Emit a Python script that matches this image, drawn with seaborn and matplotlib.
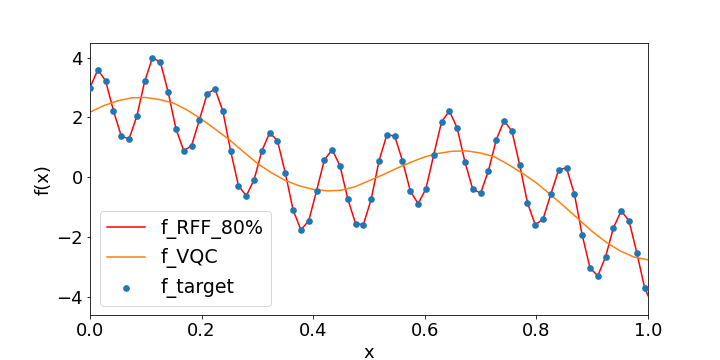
import numpy as np
import matplotlib
matplotlib.use("Agg")
import matplotlib.pyplot as plt
import seaborn as sns

# ---------------------------------------------------------------------------
# Datos
# ---------------------------------------------------------------------------
# puntos objetivo, paso 0.014 en x
x_target = np.round(np.arange(72) * 0.014, 3)
f_target = [
    3.00, 3.60, 3.23, 2.23, 1.38, 1.28, 2.05, 3.21, 4.00, 3.86,
    2.86, 1.62, 0.89, 1.05, 1.92, 2.79, 2.96, 2.22, 0.88, -0.28,
    -0.63, -0.09, 0.88, 1.49, 1.22, 0.14, -1.10, -1.77, -1.46, -0.46,
    0.58, 0.92, 0.38, -0.73, -1.56, -1.59, -0.73, 0.55, 1.42, 1.38,
    0.55, -0.46, -0.89, -0.39, 0.75, 1.85, 2.22, 1.65, 0.51, -0.41,
    -0.53, 0.21, 1.25, 1.89, 1.55, 0.41, -0.86, -1.60, -1.40, -0.56,
    0.25, 0.31, -0.56, -1.93, -3.04, -3.31, -2.67, -1.70, -1.13, -1.46,
    -2.54, -3.71,
]

# aproximación RFF (pasa por los puntos, un punto más allá del borde)
x_rff = np.append(x_target, 1.008)
f_rff = f_target + [-4.30]

# curva VQC
x_vqc = np.linspace(0, 1, 41)
f_vqc = [
    2.18, 2.40, 2.56, 2.66, 2.67, 2.60, 2.48, 2.24, 1.94, 1.60,
    1.25, 0.85, 0.46, 0.15, -0.11, -0.29, -0.41, -0.46, -0.44, -0.32,
    -0.12, 0.08, 0.30, 0.50, 0.68, 0.80, 0.87, 0.88, 0.81, 0.68,
    0.42, 0.13, -0.19, -0.58, -0.98, -1.40, -1.82, -2.18, -2.47, -2.68,
    -2.77,
]

plt.rcParams["font.size"] = 18

fig, ax = plt.subplots(figsize=(10, 5))
fig.subplots_adjust(left=0.125, right=0.9, top=0.88, bottom=0.125)

sns.lineplot(x=x_rff, y=f_rff, color="red", label="f_RFF_80%", ax=ax, sort=False)
sns.lineplot(x=x_vqc, y=f_vqc, color="#ff7f0e", label="f_VQC", ax=ax, sort=False)
sns.scatterplot(x=x_target, y=f_target, color="#1f77b4", s=45, linewidth=0,
                label="f_target", ax=ax, zorder=3)

ax.set_xlim(0, 1)
ax.set_ylim(-4.62, 4.49)
ax.set_yticks([-4, -2, 0, 2, 4])
ax.set_xlabel("x")
ax.set_ylabel("f(x)")
ax.legend(loc="lower left", fontsize=19)

plt.savefig("out.png", dpi=72)
plt.close()
